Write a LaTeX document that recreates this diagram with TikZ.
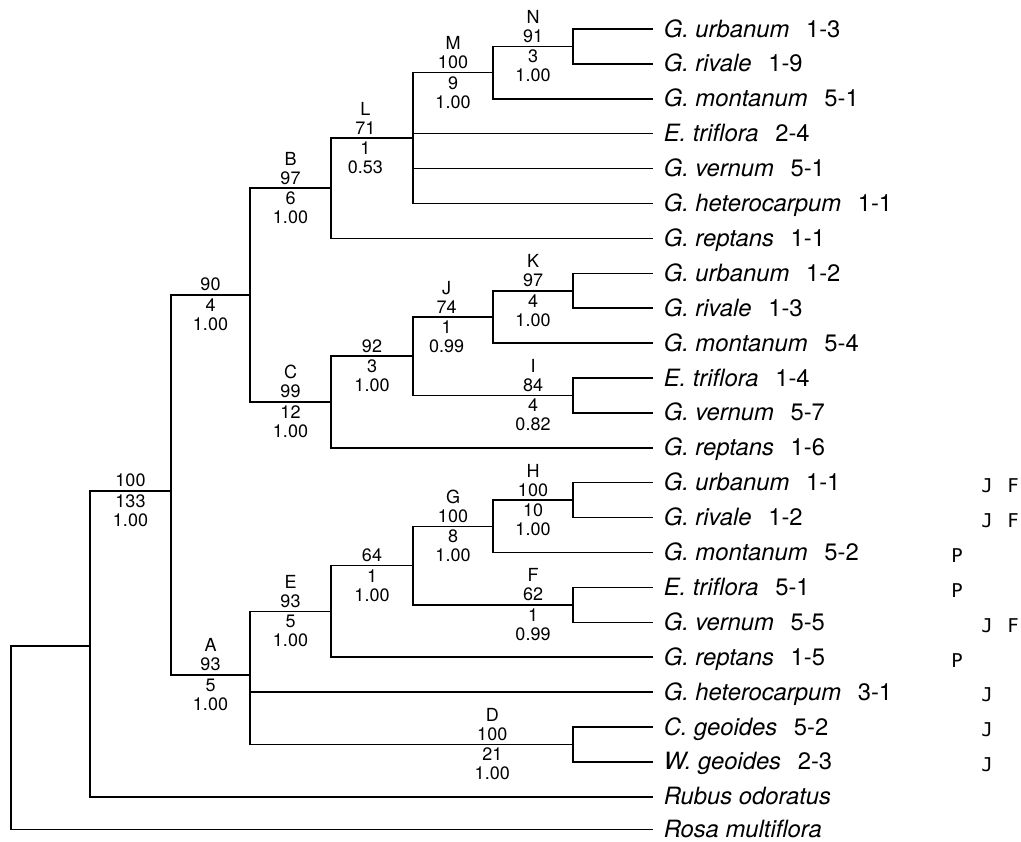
\documentclass[tikz,border=0pt]{standalone}
\usepackage{fontspec}
\setmainfont{TeX Gyre Heros}
\newfontfamily\dejavumono{DejaVu Sans Mono}
\begin{document}
\begin{tikzpicture}[x=0.5pt, y=-0.5pt, line width=0.75pt,
		leaf/.style = {anchor=west, inner xsep=5pt, inner ysep=0pt, text height=8.6pt, text depth=0.6pt, font=\fontsize{11.9}{14}\selectfont},
		upper/.style = {above, pos=.75, inner sep=1.5pt, align=center, font=\fontsize{9}{9.5}\selectfont},
		lower/.style = {below, pos=.75, inner sep=1.5pt, align=center, font=\fontsize{9}{9.5}\selectfont},
		site/.style = {yshift=-1.5pt, font=\dejavumono\fontsize{9.5}{10}\selectfont}]
		\useasboundingbox (0,0) rectangle (1021,841);
		\node[leaf] (l1) at (653,29) {\textit{G. urbanum}\hspace{0.7em}1-3};
		\node[leaf] (l2) at (653,63.9) {\textit{G. rivale}\hspace{0.7em}1-9};
		\node[leaf] (l3) at (653,98.8) {\textit{G. montanum}\hspace{0.7em}5-1};
		\node[leaf] (l4) at (653,133.7) {\textit{E. triflora}\hspace{0.7em}2-4};
		\node[leaf] (l5) at (653,168.6) {\textit{G. vernum}\hspace{0.7em}5-1};
		\node[leaf] (l6) at (653,203.5) {\textit{G. heterocarpum}\hspace{0.7em}1-1};
		\node[leaf] (l7) at (653,238.4) {\textit{G. reptans}\hspace{0.7em}1-1};
		\node[leaf] (l8) at (653,273.3) {\textit{G. urbanum}\hspace{0.7em}1-2};
		\node[leaf] (l9) at (653,308.2) {\textit{G. rivale}\hspace{0.7em}1-3};
		\node[leaf] (l10) at (653,343.1) {\textit{G. montanum}\hspace{0.7em}5-4};
		\node[leaf] (l11) at (653,378) {\textit{E. triflora}\hspace{0.7em}1-4};
		\node[leaf] (l12) at (653,412.9) {\textit{G. vernum}\hspace{0.7em}5-7};
		\node[leaf] (l13) at (653,447.8) {\textit{G. reptans}\hspace{0.7em}1-6};
		\node[leaf] (l14) at (653,482.7) {\textit{G. urbanum}\hspace{0.7em}1-1};
		\node[leaf] (l15) at (653,517.6) {\textit{G. rivale}\hspace{0.7em}1-2};
		\node[leaf] (l16) at (653,552.5) {\textit{G. montanum}\hspace{0.7em}5-2};
		\node[leaf] (l17) at (653,587.4) {\textit{E. triflora}\hspace{0.7em}5-1};
		\node[leaf] (l18) at (653,622.3) {\textit{G. vernum}\hspace{0.7em}5-5};
		\node[leaf] (l19) at (653,657.2) {\textit{G. reptans}\hspace{0.7em}1-5};
		\node[leaf] (l20) at (653,692.1) {\textit{G. heterocarpum}\hspace{0.7em}3-1};
		\node[leaf] (l21) at (653,727) {\textit{C. geoides}\hspace{0.7em}5-2};
		\node[leaf] (l22) at (653,761.9) {\textit{W. geoides}\hspace{0.7em}2-3};
		\node[leaf] (l23) at (653,796.8) {\textit{Rubus odoratus}};
		\node[leaf] (l24) at (653,829.5) {\textit{Rosa multiflora}};
		\coordinate (root) at (11,739);
		\coordinate (out) at (90,646);
		\coordinate (ing) at (171,491);
		\coordinate (n90) at (250,295);
		\coordinate (nB) at (331,188.2);
		\coordinate (nL) at (413,138.1);
		\coordinate (nM) at (493,72.6);
		\coordinate (nN) at (573,46.45);
		\coordinate (nC) at (331,402);
		\coordinate (n92) at (413,356.2);
		\coordinate (nJ) at (493,316.9);
		\coordinate (nK) at (573,290.75);
		\coordinate (nI) at (573,395.45);
		\coordinate (nA) at (250,675);
		\coordinate (nE) at (331,611.4);
		\coordinate (n64) at (413,565.6);
		\coordinate (nG) at (493,526.3);
		\coordinate (nH) at (573,500.15);
		\coordinate (nF) at (573,604.85);
		\coordinate (nD) at (573,744.45);
		\coordinate (colP) at (957,0);
		\coordinate (colJ) at (987,0);
		\coordinate (colF) at (1013,0);
		\draw (root) |- (out);
		\draw (root) |- (l24.west);
		\draw (out) |- (l23.west);
		\draw (out) |- node[upper] (t100) {100} node[lower] (b100) {133\\1.00} (ing);
		\draw (ing) |- node[upper] (t90) {90} node[lower] (b90) {4\\1.00} (n90);
		\draw (ing) |- node[upper] (tA) {A\\93} node[lower] (bA) {5\\1.00} (nA);
		\draw (n90) |- node[upper] (tB) {B\\97} node[lower] (bB) {6\\1.00} (nB);
		\draw (n90) |- node[upper] (tC) {C\\99} node[lower] (bC) {12\\1.00} (nC);
		\draw (nB) |- node[upper, pos=.71] (tL) {L\\71} node[lower, pos=.71] (bL) {1\\0.53} (nL);
		\draw (nB) |- (l7.west);
		\draw (nL) |- node[upper] (tM) {M\\100} node[lower] (bM) {9\\1.00} (nM);
		\draw (nL) |- (l4.west);
		\draw (nL) |- (l5.west);
		\draw (nL) |- (l6.west);
		\draw (nM) |- node[upper] (tN) {N\\91} node[lower] (bN) {3\\1.00} (nN);
		\draw (nM) |- (l3.west);
		\draw (nN) |- (l1.west);
		\draw (nN) |- (l2.west);
		\draw (nC) |- node[upper] (t92) {92} node[lower] (b92) {3\\1.00} (n92);
		\draw (nC) |- (l13.west);
		\draw (n92) |- node[upper, pos=.71] (tJ) {J\\74} node[lower, pos=.71] (bJ) {1\\0.99} (nJ);
		\draw (n92) |- node[upper, pos=.875] (tI) {I\\84} node[lower, pos=.875] (bI) {4\\0.82} (nI);
		\draw (nJ) |- node[upper] (tK) {K\\97} node[lower] (bK) {4\\1.00} (nK);
		\draw (nJ) |- (l10.west);
		\draw (nK) |- (l8.west);
		\draw (nK) |- (l9.west);
		\draw (nI) |- (l11.west);
		\draw (nI) |- (l12.west);
		\draw (nA) |- node[upper] (tE) {E\\93} node[lower] (bE) {5\\1.00} (nE);
		\draw (nA) |- (l20.west);
		\draw (nA) |- node[upper, pos=.875] (tD) {D\\100} node[lower, pos=.875] (bD) {21\\1.00} (nD);
		\draw (nE) |- node[upper] (t64) {64} node[lower] (b64) {1\\1.00} (n64);
		\draw (nE) |- (l19.west);
		\draw (n64) |- node[upper] (tG) {G\\100} node[lower] (bG) {8\\1.00} (nG);
		\draw (n64) |- node[upper, pos=.875] (tF) {F\\62} node[lower, pos=.875] (bF) {1\\0.99} (nF);
		\draw (nG) |- node[upper] (tH) {H\\100} node[lower] (bH) {10\\1.00} (nH);
		\draw (nG) |- (l16.west);
		\draw (nH) |- (l14.west);
		\draw (nH) |- (l15.west);
		\draw (nF) |- (l17.west);
		\draw (nF) |- (l18.west);
		\draw (nD) |- (l21.west);
		\draw (nD) |- (l22.west);
		\node[site] (j14) at (l14.west -| colJ) {J};
		\node[site] (f14) at (l14.west -| colF) {F};
		\node[site] (j15) at (l15.west -| colJ) {J};
		\node[site] (f15) at (l15.west -| colF) {F};
		\node[site] (p16) at (l16.west -| colP) {P};
		\node[site] (p17) at (l17.west -| colP) {P};
		\node[site] (j18) at (l18.west -| colJ) {J};
		\node[site] (f18) at (l18.west -| colF) {F};
		\node[site] (p19) at (l19.west -| colP) {P};
		\node[site] (j20) at (l20.west -| colJ) {J};
		\node[site] (j21) at (l21.west -| colJ) {J};
		\node[site] (j22) at (l22.west -| colJ) {J};
	\end{tikzpicture}
\end{document}
